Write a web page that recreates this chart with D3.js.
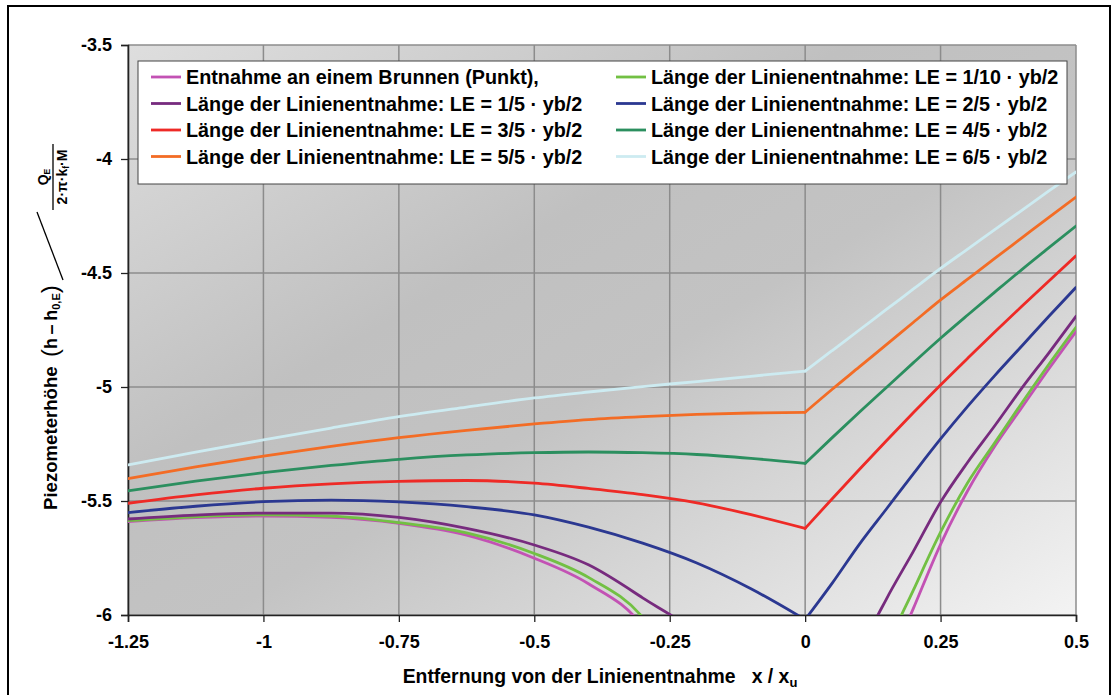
<!DOCTYPE html>
<html><head><meta charset="utf-8">
<script src="https://cdn.jsdelivr.net/npm/d3@7"></script>
<style>
html,body{margin:0;padding:0;background:#fff;}
svg text{font-family:"Liberation Sans",Arial,sans-serif;font-weight:bold;}
</style></head>
<body>
<svg id="c" width="1118" height="695"></svg>
<script>
const xs = [-1.25,-1.125,-1,-0.875,-0.75,-0.625,-0.5,-0.4,-0.3,-0.2,-0.1,0,0.05,0.1,0.15,0.2,0.25,0.3,0.35,0.4,0.45,0.5];
const seriesNames = [
  "Entnahme an einem Brunnen (Punkt),",
  "Länge der Linienentnahme: LE = 1/10 · yb/2",
  "Länge der Linienentnahme: LE = 1/5 · yb/2",
  "Länge der Linienentnahme: LE = 2/5 · yb/2",
  "Länge der Linienentnahme: LE = 3/5 · yb/2",
  "Länge der Linienentnahme: LE = 4/5 · yb/2",
  "Länge der Linienentnahme: LE = 5/5 · yb/2",
  "Länge der Linienentnahme: LE = 6/5 · yb/2"
];
const seriesColors = ["#c352b4","#72c043","#772b7e","#2b3891","#ee2a26","#2b8f5f","#f36c25","#cdebf1"];
const punkt   = [-5.59,-5.573,-5.566,-5.572,-5.598,-5.65,-5.751,-5.863,-6.05,-6.5,-6.9,-7.3,-7.0,-6.6,-6.25,-5.97,-5.69,-5.455,-5.26,-5.09,-4.92,-4.757];
const le1_10  = [-5.586,-5.569,-5.561,-5.566,-5.595,-5.64,-5.73,-5.835,-6.01,-6.4,-6.8,-7.2,-6.9,-6.5,-6.15,-5.89,-5.637,-5.42,-5.245,-5.07,-4.9,-4.738];
const le1_5   = [-5.579,-5.562,-5.553,-5.553,-5.572,-5.62,-5.693,-5.78,-5.925,-6.09,-6.4,-6.9,-6.5,-6.17,-5.93,-5.72,-5.505,-5.33,-5.17,-5.005,-4.85,-4.69];
const le2_5   = [-5.551,-5.523,-5.503,-5.496,-5.504,-5.525,-5.561,-5.615,-5.685,-5.772,-5.885,-6.02,-5.86,-5.69,-5.535,-5.38,-5.228,-5.085,-4.95,-4.82,-4.69,-4.563];
const le3_5   = [-5.51,-5.473,-5.444,-5.425,-5.414,-5.41,-5.422,-5.445,-5.472,-5.508,-5.56,-5.62,-5.49,-5.362,-5.236,-5.112,-4.991,-4.874,-4.759,-4.646,-4.535,-4.425];
const le4_5   = [-5.455,-5.413,-5.376,-5.344,-5.317,-5.298,-5.288,-5.285,-5.288,-5.296,-5.313,-5.335,-5.222,-5.111,-5.002,-4.893,-4.786,-4.684,-4.584,-4.485,-4.389,-4.294];
const le5_5   = [-5.402,-5.35,-5.303,-5.26,-5.222,-5.19,-5.162,-5.143,-5.13,-5.12,-5.114,-5.111,-5.01,-4.912,-4.814,-4.716,-4.618,-4.527,-4.436,-4.346,-4.256,-4.167];
const le6_5   = [-5.342,-5.286,-5.232,-5.18,-5.13,-5.088,-5.048,-5.022,-4.998,-4.976,-4.953,-4.93,-4.84,-4.75,-4.66,-4.57,-4.48,-4.395,-4.31,-4.225,-4.14,-4.057];
const seriesValues = [punkt,le1_10,le1_5,le2_5,le3_5,le4_5,le5_5,le6_5];
const xTicks = [-1.25,-1,-0.75,-0.5,-0.25,0,0.25,0.5];
const yTicks = [-3.5,-4,-4.5,-5,-5.5,-6];

const svg = d3.select("#c");
const L=128, R=1076, T=45, B=615;
const x = d3.scaleLinear().domain([-1.25,0.5]).range([L,R]);
const y = d3.scaleLinear().domain([-6,-3.5]).range([B,T]);

// outer frame
svg.append("rect").attr("x",8).attr("y",6).attr("width",1102).attr("height",700)
  .attr("fill","none").attr("stroke","#000").attr("stroke-width",2);

const defs = svg.append("defs");
const g = defs.append("linearGradient").attr("id","bg").attr("x1",0).attr("y1",0).attr("x2",1).attr("y2",1);
[[0,"#dedede"],[0.38,"#c0c0c0"],[0.55,"#c3c3c3"],[1,"#f3f3f3"]].forEach(s=>g.append("stop").attr("offset",s[0]).attr("stop-color",s[1]));
defs.append("clipPath").attr("id","clip").append("rect").attr("x",L).attr("y",T).attr("width",R-L).attr("height",B-T);

svg.append("rect").attr("x",L).attr("y",T).attr("width",R-L).attr("height",B-T).attr("fill","url(#bg)");

// grid
svg.append("g").selectAll("line").data(xTicks).join("line")
  .attr("x1",d=>x(d)).attr("x2",d=>x(d)).attr("y1",T).attr("y2",B)
  .attr("stroke","#8c8c8c").attr("stroke-width",1.5);
svg.append("g").selectAll("line").data(yTicks).join("line")
  .attr("x1",L).attr("x2",R).attr("y1",d=>y(d)).attr("y2",d=>y(d))
  .attr("stroke","#8c8c8c").attr("stroke-width",1.5);

// axes
const xAxis = svg.append("g").attr("transform",`translate(0,${B})`)
  .call(d3.axisBottom(x).tickValues(xTicks).tickFormat(d=>String(d)).tickSize(7).tickPadding(13));
const yAxis = svg.append("g").attr("transform",`translate(${L},0)`)
  .call(d3.axisLeft(y).tickValues(yTicks).tickFormat(d=>String(d)).tickSize(7).tickPadding(9));
[xAxis,yAxis].forEach(a=>{
  a.select(".domain").attr("stroke","#222").attr("stroke-width",1.6);
  a.selectAll(".tick line").attr("stroke","#222").attr("stroke-width",1.3);
  a.selectAll(".tick text").attr("font-size",18).attr("fill","#000")
    .attr("font-family","'Liberation Sans',Arial,sans-serif").attr("font-weight","bold");
});

// series: left branch (x<=0) and right branch (x>=0) drawn smooth, sharp corner at 0
const line = d3.line().x(d=>x(d[0])).y(d=>y(d[1])).curve(d3.curveMonotoneX);
const plot = svg.append("g").attr("clip-path","url(#clip)");
seriesValues.forEach((vals,i)=>{
  const pts = xs.map((xv,j)=>[xv,vals[j]]);
  const left = pts.filter(p=>p[0]<=0), right = pts.filter(p=>p[0]>=0);
  [left,right].forEach(part=>{
    plot.append("path").datum(part).attr("d",line).attr("fill","none")
      .attr("stroke",seriesColors[i]).attr("stroke-width",2.8)
      .attr("stroke-linejoin","round").attr("stroke-linecap","round");
  });
});

// legend
const lg = svg.append("g");
lg.append("rect").attr("x",138).attr("y",61).attr("width",929).attr("height",123)
  .attr("fill","#fff").attr("stroke","#444").attr("stroke-width",1);
const rowY = [77,103.5,130,156.5];
seriesNames.forEach((name,i)=>{
  const col = i%2, row = Math.floor(i/2);
  const lx = col===0 ? 151 : 616;
  const yy = rowY[row];
  lg.append("line").attr("x1",lx).attr("x2",lx+30).attr("y1",yy).attr("y2",yy)
    .attr("stroke",seriesColors[i]).attr("stroke-width",2.8);
  lg.append("text").attr("x",lx+35).attr("y",yy+7).attr("font-size",19.8).attr("fill","#000").text(name);
});

// x title
const xt = svg.append("text").attr("x",600).attr("y",683).attr("text-anchor","middle").attr("font-size",19.4).attr("fill","#000");
xt.append("tspan").text("Entfernung von der Linienentnahme\u00a0\u00a0\u00a0x / x");
xt.append("tspan").attr("font-size",13).attr("dy",4).text("u");

// y title (rotated)
const yl = svg.append("g").attr("transform","translate(57,510) rotate(-90)");
yl.append("text").attr("x",0).attr("y",0).attr("font-size",18.6).attr("fill","#000").text("Piezometerhöhe");
const f = yl.append("text").attr("x",153).attr("y",0).attr("font-size",18).attr("fill","#000");
f.append("tspan").attr("font-size",24).attr("font-weight","normal").attr("dy",1).text("(");
f.append("tspan").attr("dy",-1).text("h\u2009\u2013\u2009h");
f.append("tspan").attr("font-size",11).attr("dy",3).text("0,E");
f.append("tspan").attr("font-size",24).attr("font-weight","normal").attr("dy",-2).text(")");
yl.append("line").attr("x1",230).attr("y1",6).attr("x2",298).attr("y2",-20).attr("stroke","#000").attr("stroke-width",1.3);
const num = yl.append("text").attr("x",333).attr("y",-9).attr("text-anchor","middle").attr("font-size",14).attr("fill","#000");
num.append("tspan").text("Q");
num.append("tspan").attr("font-size",8.5).attr("dy",2).text("E");
yl.append("line").attr("x1",300).attr("x2",366).attr("y1",-4).attr("y2",-4).attr("stroke","#000").attr("stroke-width",1.3);
const den = yl.append("text").attr("x",333).attr("y",10).attr("text-anchor","middle").attr("font-size",14).attr("fill","#000");
den.append("tspan").text("2\u00b7\u03c0\u00b7k");
den.append("tspan").attr("font-size",8.5).attr("dy",2).text("f");
den.append("tspan").attr("dy",-2).text("\u00b7M");
</script>
</body></html>
